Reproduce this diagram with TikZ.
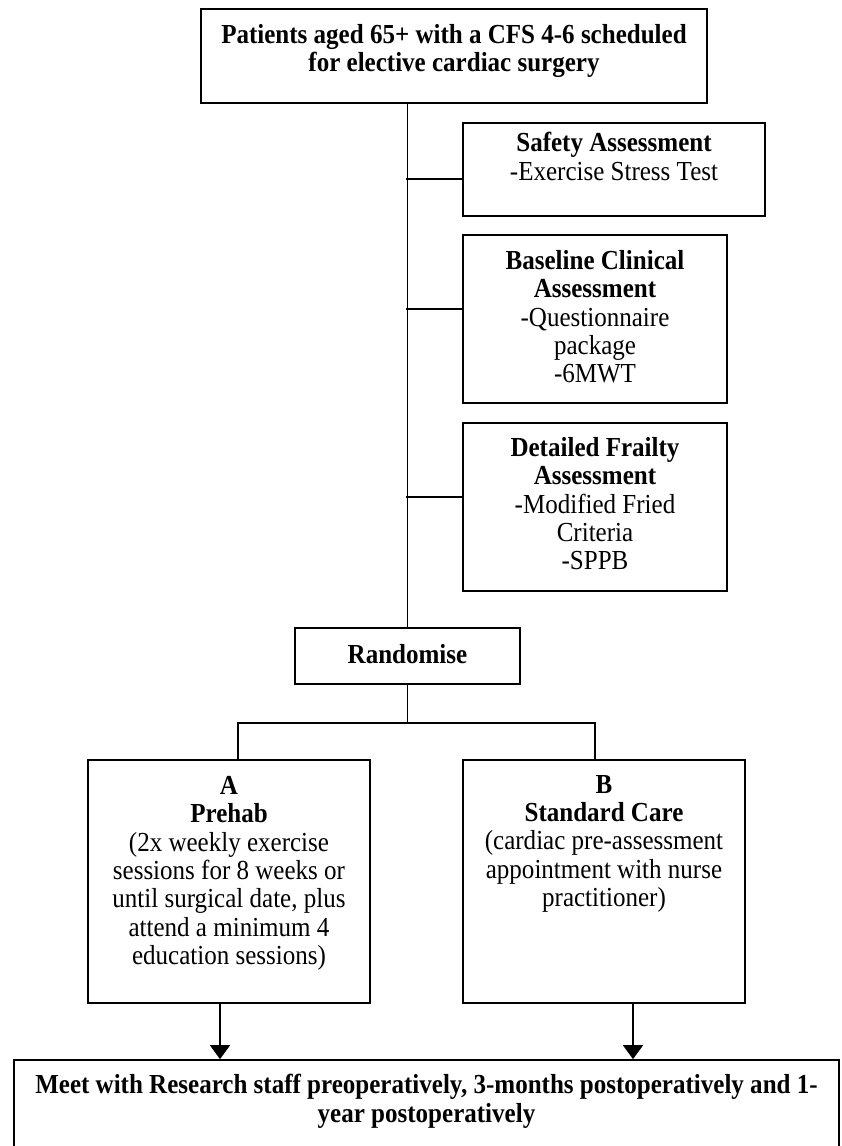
\documentclass[tikz,border=0pt]{standalone}
\usepackage{fontspec}
\setmainfont[FakeStretch=0.91]{Liberation Serif}
\usetikzlibrary{arrows.meta}
\tikzset{
	box/.style 2 args={draw,line width=1.7pt,minimum width=#1,minimum height=#2,inner sep=0pt},
	boxtext/.style={anchor=north,align=center,inner sep=0pt,font=\fontsize{27.5}{28.3}\selectfont},
	link/.style={line width=1.7pt},
	arr/.style={line width=1.7pt,-{Triangle[width=20pt,length=14pt]}}
}

\begin{document}
\begin{tikzpicture}[x=1pt,y=-1pt]
	\useasboundingbox (0,0) rectangle (841,1146);
	\clip (0,0) rectangle (841,1146);

	% boxes
	\node [box={506pt}{94pt}] (top) at (454,56) {};
	\node [box={302pt}{93pt}] (safety) at (614,169.5) {};
	\node [box={264pt}{168pt}] (baseline) at (595,319) {};
	\node [box={264pt}{168pt}] (frailty) at (595,507) {};
	\node [box={225pt}{56pt}] (rand) at (407.5,656) {};
	\node [box={282pt}{243pt}] (prehab) at (229,881.5) {};
	\node [box={282pt}{243pt}] (standard) at (604,881.5) {};
	\node [box={825pt}{110pt}] (meet) at (426.5,1115) {};

	% texts
	\node [boxtext] (top text) at ([yshift=-16pt]top.north)
		{\textbf{Patients aged 65+ with a CFS 4-6 scheduled}\\\textbf{for elective cardiac surgery}};
	\node [boxtext] (safety text) at ([yshift=-10pt]safety.north)
		{\textbf{Safety Assessment}\\-Exercise Stress Test};
	\node [boxtext] (baseline text) at ([yshift=-16pt]baseline.north)
		{\textbf{Baseline Clinical}\\\textbf{Assessment}\\-Questionnaire\\package\\-6MWT};
	\node [boxtext] (frailty text) at ([yshift=-15pt]frailty.north)
		{\textbf{Detailed Frailty}\\\textbf{Assessment}\\-Modified Fried\\Criteria\\-SPPB};
	\node [boxtext] (rand text) at ([yshift=-17pt]rand.north) {\textbf{Randomise}};
	\node [boxtext] (prehab text) at ([yshift=-17pt]prehab.north)
		{\textbf{A}\\\textbf{Prehab}\\(2x weekly exercise\\sessions for 8 weeks or\\until surgical date, plus\\attend a minimum 4\\education sessions)};
	\node [boxtext] (standard text) at ([yshift=-16pt]standard.north)
		{\textbf{B}\\\textbf{Standard Care}\\(cardiac pre-assessment\\appointment with nurse\\practitioner)};
	\node [boxtext] (meet text) at ([yshift=-15pt]meet.north)
		{\textbf{Meet with Research staff preoperatively, 3-months postoperatively and 1-}\\\textbf{year postoperatively}};

	% connectors
	\draw [link] (top.south -| rand.north) -- (rand.north);
	\draw [link] ([yshift=-9.5pt]safety.west) -- +(-56,0);
	\draw [link] ([yshift=10pt]baseline.west) -- +(-56,0);
	\draw [link] ([yshift=10pt]frailty.west) -- +(-56,0);

	\coordinate (split) at ([yshift=-38pt]rand.south);
	\draw [link] (rand.south) -- (split);
	\draw [link] ([xshift=9pt]prehab.north) |- (split) -| ([xshift=-9pt]standard.north);

	\draw [arr] ([xshift=-9pt]prehab.south) -- ([xshift=-9pt]prehab.south |- meet.north);
	\draw [arr] ([xshift=29pt]standard.south) -- ([xshift=29pt]standard.south |- meet.north);
\end{tikzpicture}
\end{document}
